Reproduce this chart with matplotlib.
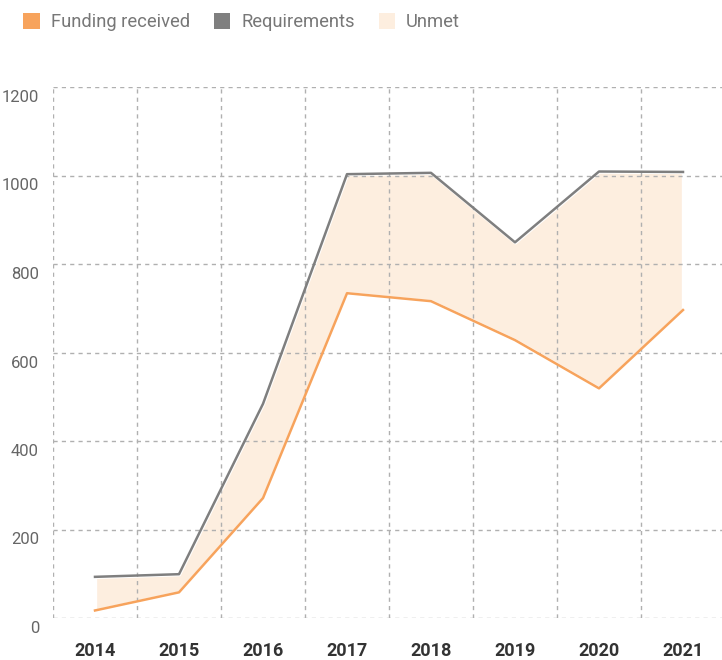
import matplotlib
matplotlib.use("Agg")
import matplotlib.pyplot as plt
from matplotlib.patches import Patch
import matplotlib.transforms as mtransforms

years = ["2014", "2015", "2016", "2017", "2018", "2019", "2020", "2021"]
requirements = [93, 99, 484, 1003, 1006, 849, 1009, 1008]
funding = [17, 58, 271, 734, 716, 628, 519, 696]
yticks = [0, 200, 400, 600, 800, 1000, 1200]

c_fund = "#F7A35C"
c_req = "#7F7F7F"
c_unmet = "#FDEEDF"

plt.rcParams['font.family'] = ['Roboto', 'DejaVu Sans']

W, H = 722, 660
fig = plt.figure(figsize=(W / 100, H / 100), dpi=100)
ax = fig.add_axes([53 / W, (H - 618) / H, 672 / W, (618 - 87) / H])

x = list(range(len(years)))
ax.fill_between(x, funding, requirements, color=c_unmet, edgecolor="white",
                linewidth=2.4, zorder=1)
ax.plot(x, requirements, color=c_req, linewidth=1.8, zorder=2)
ax.plot(x, funding, color=c_fund, linewidth=1.8, zorder=2)

ax.set_xlim(-0.5, len(years) - 0.5)
ax.set_ylim(0, 1200)
ax.set_yticks(yticks)
ax.set_yticklabels([str(v) for v in yticks])
ax.set_xticks(x)
ax.set_xticklabels(years)
ax.set_xticks([i - 0.5 for i in range(len(years) + 1)], minor=True)

ax.set_axisbelow('line')
ax.grid(axis='y', which='major', color="#B0B0B0", linestyle=(0, (3, 3)), linewidth=1)
ax.grid(axis='x', which='minor', color="#B0B0B0", linestyle=(0, (3, 3)), linewidth=1)
ax.grid(axis='x', which='major', visible=False)

for s in ax.spines.values():
    s.set_visible(False)

ax.tick_params(axis='both', which='both', length=0)
ax.tick_params(axis='y', pad=10, labelsize=12, labelcolor="#666666")
ax.tick_params(axis='x', pad=17, labelsize=13, labelcolor="#333333")
for lab in ax.get_xticklabels():
    lab.set_fontweight('bold')
offset = mtransforms.ScaledTranslation(0, -9 / 100, fig.dpi_scale_trans)
for lab in ax.get_yticklabels():
    lab.set_fontweight('normal')
    lab.set_transform(lab.get_transform() + offset)

handles = [Patch(facecolor=c_fund, edgecolor='none'),
           Patch(facecolor=c_req, edgecolor='none'),
           Patch(facecolor=c_unmet, edgecolor='none')]
leg = fig.legend(handles, ["Funding received", "Requirements", "Unmet"],
                 loc='upper left', bbox_to_anchor=(16 / W, 1 - 6 / H), ncol=3,
                 frameon=False, fontsize=13.2, handlelength=0.9, handleheight=0.9,
                 handletextpad=0.6, columnspacing=1.3, borderaxespad=0)
for t in leg.get_texts():
    t.set_color("#777777")
    t.set_fontweight('normal')

fig.savefig("out.png", dpi=100)
